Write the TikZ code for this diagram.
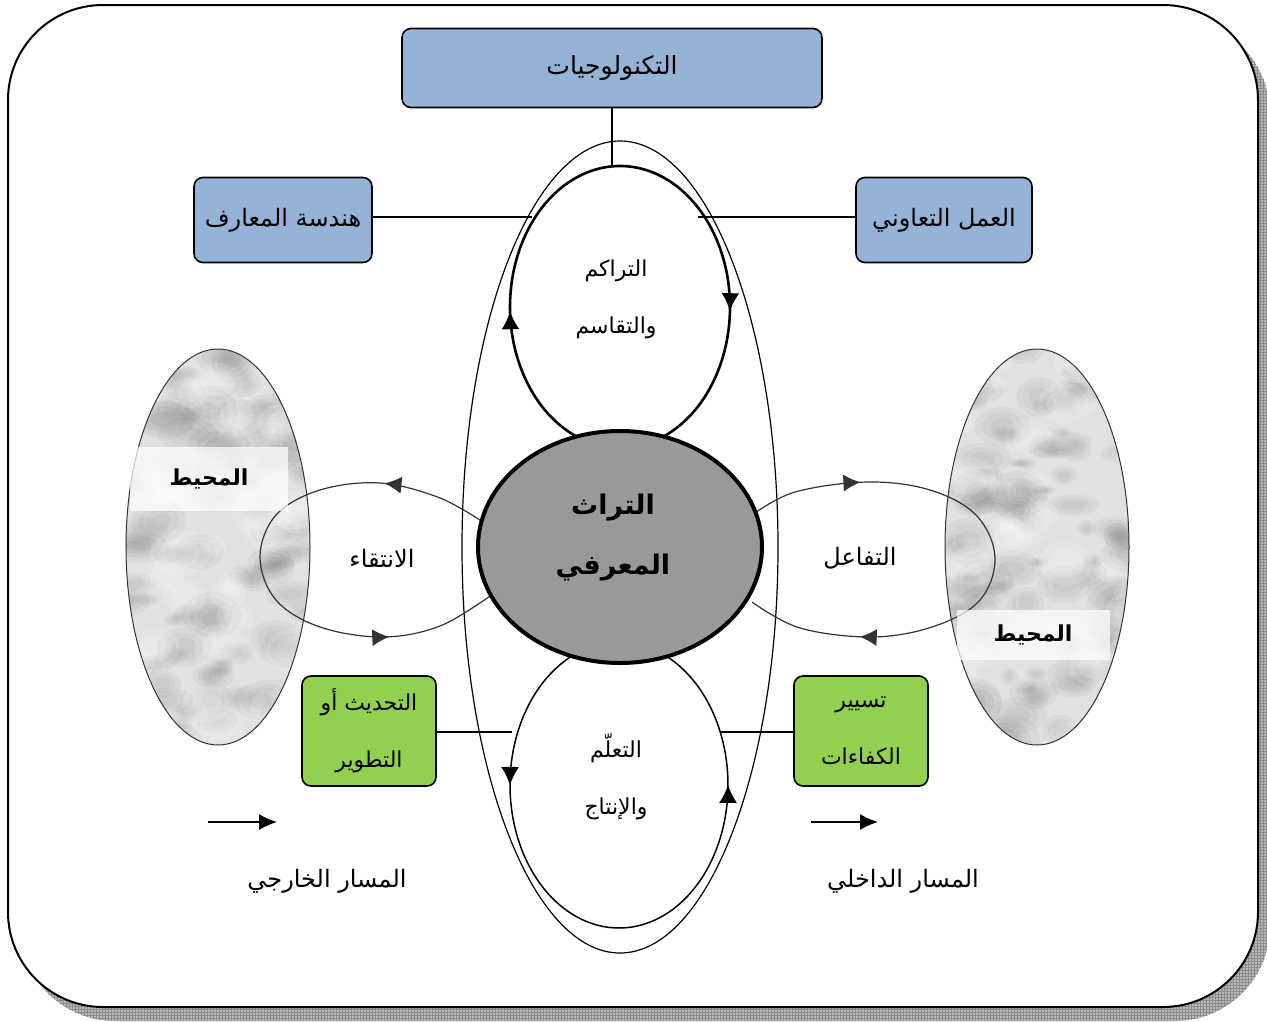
\documentclass[tikz,border=0pt]{standalone}
\usepackage{fontspec}
\usetikzlibrary{shapes.geometric,arrows.meta,decorations.markings,patterns}
\newfontfamily\arabicfont[Script=Arabic]{DejaVu Sans}
\TeXXeTstate=1
\newcommand{\artxt}[1]{\arabicfont\beginR #1\endR}
\definecolor{boxblue}{RGB}{149,179,215}
\definecolor{boxgreen}{RGB}{146,208,80}
\definecolor{coregray}{RGB}{153,153,153}
\definecolor{marble}{RGB}{225,225,227}
\begin{document}
\begin{tikzpicture}[x=1pt,y=-1pt,
  bluebox/.style={draw=black, line width=1.6pt, rounded corners=9pt, fill=boxblue, inner sep=0pt},
  greenbox/.style={draw=black, line width=1.6pt, rounded corners=9pt, fill=boxgreen, inner sep=0pt, align=center},
  lbl/.style={font=\fontsize{24}{24}\selectfont, inner sep=0pt},
  twolines/.style={font=\fontsize{22}{57}\selectfont, align=center, inner sep=0pt},
  link/.style={line width=1.4pt},
  loopline/.style={line width=1.2pt, draw=black!80},
  envshape/.style={ellipse, draw=black!80, line width=1pt, inner sep=0pt, fill=marble,
    minimum width=184pt, minimum height=396pt,
    path picture={
      \begin{scope}[shift={(path picture bounding box.center)}]
        % soft grey clouds, each built from nested translucent ellipses
        \foreach \k in {1,...,95}{
          \pgfmathsetmacro\px{95*rand}
          \pgfmathsetmacro\py{-200*rand}
          \pgfmathsetmacro\rr{8+24*rnd}
          \pgfmathsetmacro\ry{0.4+0.5*rnd}
          \foreach \f in {1,0.72,0.45}{
            \fill[black!60, opacity=0.06]
              (\px,\py) ellipse [x radius=\f*\rr, y radius=\ry*\f*\rr];
          }
        }
        % lighter patches
        \foreach \k in {1,...,35}{
          \pgfmathsetmacro\px{95*rand}
          \pgfmathsetmacro\py{-200*rand}
          \pgfmathsetmacro\rr{10+20*rnd}
          \foreach \f in {1,0.65}{
            \fill[white, opacity=0.14] (\px,\py) ellipse [x radius=\f*\rr, y radius=0.8*\f*\rr];
          }
        }
      \end{scope}
    }},
  envlabel/.style={fill=white, fill opacity=0.72, text opacity=1, inner sep=0pt,
    font=\fontsize{22}{22}\selectfont\bfseries},
  flowmarks/.style n args={3}{postaction={decorate}, decoration={markings,
    mark=at position #1 with {\arrow{Latex[length=#3,width=#3]}},
    mark=at position #2 with {\arrow{Latex[length=#3,width=#3]}}}},
  legendarrow/.style={line width=1.5pt, -{Latex[length=18pt,width=16pt]}}
]
\useasboundingbox (0,0) rectangle (1267,1021);
\pgfmathsetseed{4217}

% frame with its hatched shadow
\fill[black!28, rounded corners=95pt] (20,19) rectangle (1270,1021);
\fill[pattern=grid, pattern color=black!45, rounded corners=95pt] (20,19) rectangle (1270,1021);
\draw[line width=2pt, fill=white, rounded corners=95pt] (8,5) rectangle (1258,1007);

% the environment on both sides
\node[envshape] (envL) at (218,547) {};
\node[envshape] (envR) at (1037,547) {};

% the wide outer loop
\draw[line width=1.2pt] (620,547) ellipse [x radius=158, y radius=406];

% side loops
\draw[loopline, flowmarks={0.2}{0.8}{17pt}] plot[smooth, tension=0.6] coordinates {
  (486,524) (440,498) (380,483) (320,490) (276,515) (260,557) (276,600) (320,627)
  (383,637) (440,626) (490,596)};
\draw[loopline, flowmarks={0.2}{0.8}{17pt}] plot[smooth, tension=0.6] coordinates {
  (752,515) (795,492) (868,482) (930,490) (976,515) (995,557) (980,600) (935,626)
  (873,637) (800,628) (752,602)};

% upper loop (thick) and lower loop
\draw[line width=2.6pt, flowmarks={0.22}{0.78}{18pt}]
  plot[domain=252:-72, samples=130, smooth] ({620+110*cos(\x)}, {307-141*sin(\x)});
\draw[line width=1.5pt, flowmarks={0.22}{0.78}{18pt}]
  plot[domain=112:428, samples=130, smooth] ({619+109*cos(\x)}, {785-143*sin(\x)});

% the core
\node[ellipse, draw=black, line width=4pt, fill=coregray, minimum width=284pt,
  minimum height=232pt, inner sep=0pt] (core) at (620,547) {};
\node[align=center, inner sep=0pt, font=\fontsize{27}{60}\selectfont\bfseries]
  (coretext) at ([shift={(-7,-9)}]core.center) {\artxt{التراث}\\\artxt{المعرفي}};

% labels of the loops
\node[twolines] (accum) at (616,299) {\artxt{التراكم}\\\artxt{والتقاسم}};
\node[twolines] (learn) at (616,777) {\artxt{التعلّم}\\\artxt{والإنتاج}};
\node[lbl] (select) at (382,558) {\artxt{الانتقاء}};
\node[lbl] (interact) at (860,558) {\artxt{التفاعل}};

% environment labels
\node[envlabel, minimum width=158pt, minimum height=64pt] (envLlbl) at (209,479) {\artxt{المحيط}};
\node[envlabel, minimum width=153pt, minimum height=50pt] (envRlbl) at (1033,635) {\artxt{المحيط}};

% boxes around the loops
\node[bluebox, minimum width=420pt, minimum height=79pt, font=\fontsize{25}{25}\selectfont] (tech) at (612,68) {\artxt{التكنولوجيات}};
\node[bluebox, minimum width=178pt, minimum height=85pt, lbl] (kmeng) at (283,220) {\artxt{هندسة المعارف}};
\node[bluebox, minimum width=176pt, minimum height=85pt, lbl] (collab) at (944,220) {\artxt{العمل التعاوني}};
\node[greenbox, minimum width=134pt, minimum height=110pt, twolines] (update) at (369,731)
  {\artxt{التحديث أو}\\\artxt{التطوير}};
\node[greenbox, minimum width=134pt, minimum height=110pt, twolines] (skills) at (861,731)
  {\artxt{تسيير}\\\artxt{الكفاءات}};

% links from the boxes to the loops
\coordinate (techjoin) at (612,166);
\coordinate (kmjoin) at (532,217);
\coordinate (coljoin) at (698,217);
\coordinate (updjoin) at (512,732);
\coordinate (skljoin) at (721,732);
\draw[link] (tech.south) -- (techjoin);
\draw[link] (kmeng.east |- kmjoin) -- (kmjoin);
\draw[link] (collab.west |- coljoin) -- (coljoin);
\draw[link] (update.east |- updjoin) -- (updjoin);
\draw[link] (skills.west |- skljoin) -- (skljoin);

% legend
\coordinate (extA) at (208,822);
\coordinate (extB) at (277,822);
\coordinate (intA) at (811,822);
\coordinate (intB) at (878,822);
\draw[legendarrow] (extA) -- (extB);
\draw[legendarrow] (intA) -- (intB);
\node[lbl] (extpath) at (327,881) {\artxt{المسار الخارجي}};
\node[lbl] (intpath) at (903,881) {\artxt{المسار الداخلي}};
\end{tikzpicture}
\end{document}
